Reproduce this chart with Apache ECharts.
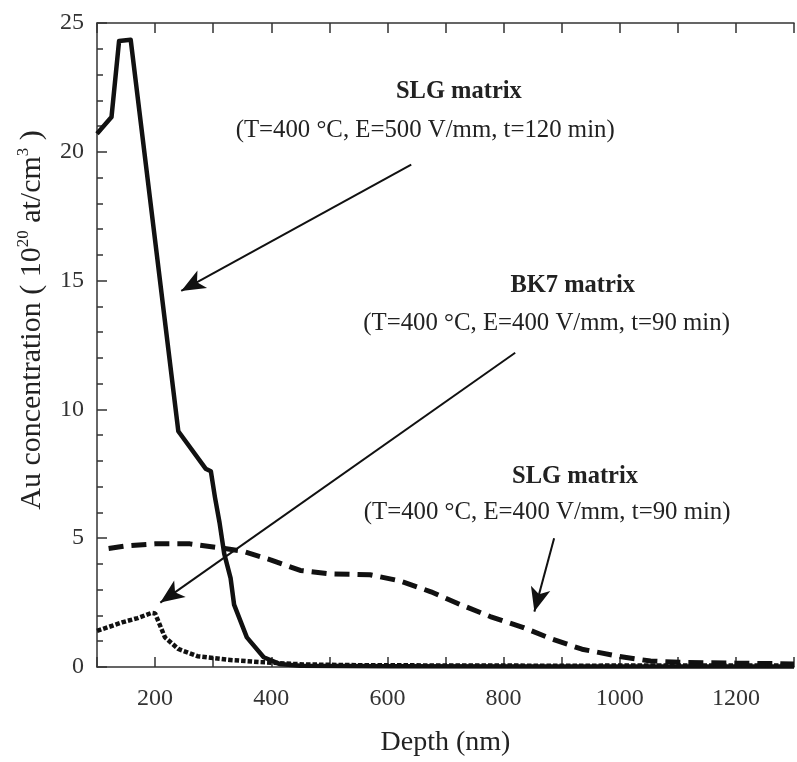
<!DOCTYPE html>
<html>
<head>
<meta charset="utf-8">
<script src="https://cdn.jsdelivr.net/npm/echarts@6/dist/echarts.min.js"></script>
<style>
html,body{margin:0;padding:0;background:#fff;}
#c{width:797px;height:762px;}
</style>
</head>
<body>
<div id="c"></div>
<script>
// ---- data ----
var slg500X = [100, 125, 138, 158, 240, 287, 296, 303, 311, 319, 330, 336, 358, 387, 414, 450, 600, 900, 1300];
var slg500Y = [20.7, 21.35, 24.3, 24.35, 9.15, 7.7, 7.6, 6.6, 5.6, 4.4, 3.45, 2.42, 1.15, 0.38, 0.12, 0.05, 0.03, 0.02, 0.02];

var slg400X = [120, 150, 200, 260, 320, 350, 400, 450, 500, 570, 620, 675, 726, 777, 833, 884, 935, 997, 1053, 1104, 1200, 1300];
var slg400Y = [4.6, 4.7, 4.78, 4.78, 4.6, 4.5, 4.15, 3.75, 3.62, 3.58, 3.35, 2.92, 2.42, 1.96, 1.54, 1.08, 0.69, 0.42, 0.23, 0.18, 0.15, 0.12];

var bk7X = [100, 143, 170, 194, 200, 217, 240, 273, 325, 381, 455, 550, 700, 900, 1100, 1300];
var bk7Y = [1.4, 1.73, 1.9, 2.1, 2.08, 1.15, 0.7, 0.42, 0.28, 0.19, 0.1, 0.07, 0.06, 0.05, 0.06, 0.06];

var xTickLabels = [200, 400, 600, 800, 1000, 1200];
var yTickLabels = [0, 5, 10, 15, 20, 25];

// annotation anchors (data coordinates)
var annTitles = ['SLG matrix', 'BK7 matrix', 'SLG matrix'];
var annSubs = ['(T=400 \u00b0C, E=500 V/mm, t=120 min)', '(T=400 \u00b0C, E=400 V/mm, t=90 min)', '(T=400 \u00b0C, E=400 V/mm, t=90 min)'];
var annTitlePos = [[723, 22.3], [919, 14.77], [923, 7.35]];
var annSubPos = [[665, 20.8], [874, 13.3], [875, 5.96]];
var arrowFrom = [[641, 19.5], [820, 12.2], [887, 5.0]];
var arrowTo = [[245, 14.6], [209, 2.5], [853, 2.15]];

function zip(a, b) { return a.map(function (v, i) { return [v, b[i]]; }); }

var FONT = 'Liberation Serif';
var TXT = '#222';

var points = [];
annTitles.forEach(function (t, i) {
  points.push({coord: annTitlePos[i], symbolSize: 1, itemStyle: {color: 'rgba(0,0,0,0)'},
    label: {show: true, position: 'inside', formatter: t, fontFamily: FONT, fontSize: 24.5, fontWeight: 'bold', color: TXT}});
  points.push({coord: annSubPos[i], symbolSize: 1, itemStyle: {color: 'rgba(0,0,0,0)'},
    label: {show: true, position: 'inside', formatter: annSubs[i], fontFamily: FONT, fontSize: 24.8, color: TXT}});
});
var arrows = arrowFrom.map(function (f, i) { return [{coord: f}, {coord: arrowTo[i]}]; });

var axisCommon = {
  type: 'value', min: 100, max: 1300, interval: 100,
  axisLine: {show: true, lineStyle: {color: '#333', width: 1.5}},
  axisTick: {show: true, inside: true, length: 10, lineStyle: {color: '#333', width: 1.5}},
  splitLine: {show: false}
};

var chart = echarts.init(document.getElementById('c'));
chart.setOption({
  animation: false,
  backgroundColor: '#fff',
  grid: {left: 97, top: 23, bottom: 89, right: -9, containLabel: false},
  xAxis: [
    Object.assign({}, axisCommon, {
      position: 'bottom',
      name: 'Depth (nm)', nameLocation: 'middle', nameGap: 62,
      nameTextStyle: {fontFamily: FONT, fontSize: 28, color: TXT},
      axisLabel: {show: true, margin: 20, fontFamily: FONT, fontSize: 24, color: '#333',
        formatter: function (v) { return xTickLabels.indexOf(v) >= 0 ? String(v) : ''; }}
    }),
    Object.assign({}, axisCommon, {position: 'top', axisLabel: {show: false}})
  ],
  yAxis: {
    type: 'value', min: 0, max: 25, interval: 5,
    name: 'Au concentration ( 10{sup|20} at/cm{sup|3} )',
    nameLocation: 'middle', nameGap: 48, nameRotate: 90,
    nameTextStyle: {fontFamily: FONT, fontSize: 30, color: TXT, lineHeight: 34, padding: [0, 0, 0, 50],
      rich: {sup: {fontFamily: FONT, fontSize: 17, color: TXT, verticalAlign: 'top', lineHeight: 34}}},
    axisLine: {show: true, lineStyle: {color: '#333', width: 1.5}},
    axisTick: {show: true, inside: true, length: 10, lineStyle: {color: '#333', width: 1.5}},
    minorTick: {show: true, splitNumber: 5, length: 6, lineStyle: {color: '#333', width: 1.5}},
    splitLine: {show: false},
    axisLabel: {margin: 13, fontFamily: FONT, fontSize: 24, color: '#333',
      formatter: function (v) { return yTickLabels.indexOf(v) >= 0 ? String(v) : ''; }}
  },
  series: [
    {
      name: 'SLG 500', type: 'line', data: zip(slg500X, slg500Y), showSymbol: false, symbol: 'none',
      lineStyle: {color: '#111', width: 4.5, join: 'round'},
      markLine: {silent: true, symbol: ['none', 'arrow'], symbolSize: [15, 24],
        lineStyle: {color: '#111', width: 2, type: 'solid'}, label: {show: false}, data: arrows},
      markPoint: {silent: true, data: points}
    },
    {
      name: 'SLG 400', type: 'line', data: zip(slg400X, slg400Y), showSymbol: false, symbol: 'none',
      lineStyle: {color: '#111', width: 5, type: [15, 8]}
    },
    {
      name: 'BK7', type: 'line', data: zip(bk7X, bk7Y), showSymbol: false, symbol: 'none',
      lineStyle: {color: '#111', width: 4.5, type: [4.5, 2]}
    }
  ]
});
</script>
</body>
</html>
